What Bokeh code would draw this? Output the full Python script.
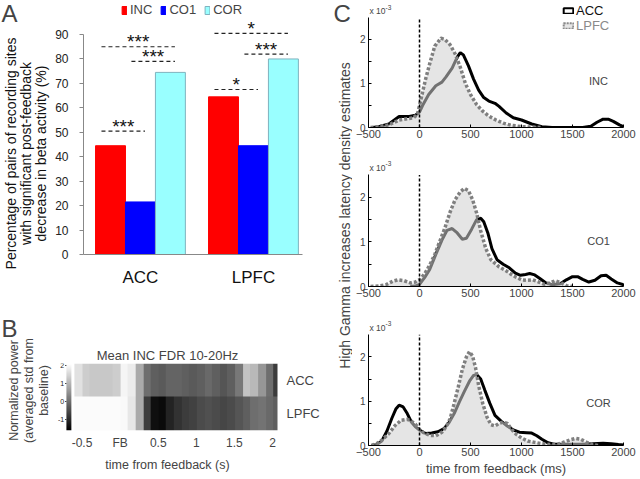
import numpy as np
from bokeh.plotting import figure
from bokeh.models import (Label, Legend, LegendItem, FixedTicker, LinearAxis,
                          Range1d, LinearColorMapper, Title)
from bokeh.layouts import row, column
from bokeh.embed import file_html
from bokeh.resources import INLINE
from bokeh.core.properties import value

FONT = "Liberation Sans"

# ---------------- Panel A data ----------------
regions = ["ACC", "LPFC"]
conditions = ["INC", "CO1", "COR"]
inc_pct = [44.5, 64.5]
co1_pct = [21.5, 44.5]
cor_pct = [74.5, 80.0]
pct_ticks = [0, 10, 20, 30, 40, 50, 60, 70, 80, 90]

sig_region = [0, 0, 0, 1, 1, 1]
sig_cond_a = [0, 0, 1, 0, 0, 1]
sig_cond_b = [1, 2, 2, 1, 2, 2]
sig_level = [50.5, 85.0, 79.0, 67.5, 90.5, 82.0]
sig_stars = ["***", "***", "***", "*", "*", "***"]

# ---------------- Panel B data ----------------
hm_time = [-0.55, -0.45, -0.35, -0.25, -0.15, -0.05, 0.05, 0.15, 0.25, 0.35,
           0.45, 0.55, 0.65, 0.75, 0.85, 0.95, 1.05, 1.15, 1.25, 1.35,
           1.45, 1.55, 1.65, 1.75, 1.85, 1.95, 2.05]
hm_acc = [1.67, 1.38, 1.31, 1.31, 1.31, 1.38, 1.96, 1.82, 0.87, 0.00,
          -0.22, -0.30, -0.15, -0.15, -0.22, -0.30, -0.22, -0.08, -0.22, -0.37,
          -0.22, 0.14, 1.23, 1.09, 0.58, 0.00, -0.73]
hm_lpfc = [2.04, 2.04, 2.04, 2.04, 2.04, 2.04, 2.01, 1.75, 0.87, -0.73,
           -1.39, -1.46, -1.10, -0.88, -0.73, -0.66, -0.52, -0.44, -0.52, -0.59,
           -0.52, -0.37, -0.22, 0.00, 0.07, -0.08, -0.22]
hm_ticks = [-0.5, 0, 0.5, 1, 1.5, 2]
hm_tick_labels = ["-0.5", "FB", "0.5", "1", "1.5", "2"]
cb_ticks = [-1, 0, 1, 2]
cb_tick_labels = ["-1", "0", "1", "2"]
cb_low, cb_high = -1.61, 2.11

# ---------------- Panel C data (ms, density x 1e-3) ----------------
lat_ticks = [-500, 0, 500, 1000, 1500, 2000]
dens_ticks = [0, 1, 2]
dens_minor = [0.5, 1.5]
dens_top = 2.5
feedback_ms = 0

inc_acc_t = [-460, -400, -300, -200, -100, -40, 0, 30, 90, 160, 220, 260, 320, 370,
             400, 430, 480, 530, 580, 630, 680, 740, 780, 850, 920, 1000, 1100,
             1200, 1300, 1450, 1600, 1680, 1740, 1800, 1850, 1900, 1960, 2000]
inc_acc_d = [0, 0.02, 0.08, 0.25, 0.25, 0.28, 0.35, 0.5, 0.75, 0.95, 1.03, 1.15, 1.35,
             1.6, 1.7, 1.65, 1.4, 1.1, 0.85, 0.68, 0.6, 0.55, 0.48, 0.33, 0.22, 0.17,
             0.08, 0.02, 0, 0, 0, 0.03, 0.12, 0.19, 0.19, 0.14, 0.06, 0.02]
inc_lpfc_t = [-480, -400, -300, -200, -120, -60, -20, 0, 30, 60, 100, 150, 210, 250,
              300, 350, 400, 450, 500, 560, 620, 680, 750, 820, 900, 1000, 1100, 1200]
inc_lpfc_d = [0, 0.02, 0.06, 0.17, 0.2, 0.22, 0.3, 0.5, 0.8, 1.1, 1.45, 1.85, 2.03,
              2.0, 1.88, 1.67, 1.37, 1.0, 0.75, 0.52, 0.37, 0.26, 0.17, 0.1, 0.05,
              0.02, 0.01, 0]

co1_acc_t = [-90, -40, 0, 50, 100, 160, 220, 270, 320, 370, 420, 460, 510, 560, 600,
             630, 670, 710, 760, 820, 880, 940, 990, 1040, 1080, 1130, 1180, 1240,
             1300, 1380, 1440, 1500, 1550, 1600, 1660, 1720, 1780, 1830, 1880, 1940, 2000]
co1_acc_d = [0, 0.01, 0.05, 0.2, 0.38, 0.72, 1.04, 1.26, 1.3, 1.2, 1.06, 1.08, 1.28,
             1.5, 1.53, 1.45, 1.2, 0.85, 0.6, 0.5, 0.42, 0.3, 0.25, 0.27, 0.29, 0.26,
             0.18, 0.08, 0.04, 0.06, 0.15, 0.22, 0.22, 0.16, 0.1, 0.14, 0.24, 0.25,
             0.17, 0.08, 0.04]
co1_lpfc_t = [-480, -400, -330, -260, -210, -150, -90, -40, 0, 50, 100, 150, 200, 250,
              300, 350, 400, 440, 480, 520, 560, 600, 650, 700, 780, 850, 920, 1000,
              1060, 1110, 1170, 1220, 1280, 1330, 1380, 1440, 1500]
co1_lpfc_d = [0, 0.01, 0.04, 0.12, 0.15, 0.13, 0.08, 0.1, 0.15, 0.28, 0.48, 0.72, 1.02,
              1.32, 1.67, 1.95, 2.12, 2.2, 2.15, 1.95, 1.65, 1.25, 0.85, 0.6, 0.44,
              0.35, 0.24, 0.15, 0.14, 0.15, 0.1, 0.05, 0.08, 0.13, 0.09, 0.02, 0]

cor_acc_t = [-470, -420, -370, -320, -270, -230, -200, -160, -120, -80, -40, 0, 60, 120,
             180, 240, 290, 340, 390, 440, 490, 530, 560, 600, 640, 690, 740, 800, 860,
             920, 980, 1050, 1100, 1150, 1200, 1260, 1320, 1400, 1500, 1600, 1700, 1800,
             1880, 1950, 2000]
cor_acc_d = [0, 0.02, 0.1, 0.32, 0.62, 0.83, 0.91, 0.87, 0.72, 0.53, 0.42, 0.35, 0.27,
             0.28, 0.31, 0.38, 0.52, 0.72, 0.98, 1.22, 1.45, 1.58, 1.6, 1.5, 1.25, 0.95,
             0.68, 0.55, 0.44, 0.35, 0.3, 0.29, 0.28, 0.22, 0.14, 0.06, 0.03, 0.03,
             0.03, 0.03, 0.04, 0.05, 0.04, 0.02, 0.01]
cor_lpfc_t = [-470, -420, -370, -300, -240, -180, -120, -80, -40, 0, 40, 100, 160, 220,
              260, 300, 340, 380, 420, 460, 490, 520, 550, 580, 620, 660, 700, 740, 780,
              820, 860, 900, 950, 1000, 1060, 1130, 1200, 1280, 1360, 1420, 1480, 1530,
              1580, 1640, 1700, 1760]
cor_lpfc_d = [0, 0.04, 0.12, 0.27, 0.45, 0.57, 0.59, 0.55, 0.48, 0.36, 0.29, 0.23, 0.22,
              0.3, 0.42, 0.6, 0.95, 1.32, 1.72, 2.0, 2.12, 2.02, 1.75, 1.35, 0.95, 0.65,
              0.47, 0.44, 0.5, 0.53, 0.5, 0.37, 0.25, 0.17, 0.1, 0.07, 0.04, 0.02, 0.03,
              0.08, 0.13, 0.16, 0.14, 0.07, 0.02, 0]


def base_fig(**kw):
    p = figure(output_backend="svg", toolbar_location=None, frame_align=False, **kw)
    p.grid.visible = False
    p.outline_line_color = None
    p.background_fill_color = "white"
    p.border_fill_color = "white"
    return p


def flabel(p, fl, fb, px, py, text, size, **kw):
    # px, py: page pixel position; fl, fb: page x of frame left, page y of frame bottom
    p.add_layout(Label(x=px - fl, y=fb - py, x_units="screen", y_units="screen",
                       text=text, text_font=FONT, text_font_size=size, **kw))


# ================= left text strip (A / B letters and y labels) =================
pS = base_fig(width=52, height=479, x_range=Range1d(0, 1), y_range=Range1d(0, 1),
              x_axis_location=None, y_axis_location=None, min_border=0)
S_FL, S_FB = 0, 479
flabel(pS, S_FL, S_FB, 1, 13, "A", "24px", text_baseline="middle", text_align="left")
for px, txt in zip([10, 25, 40], ["Percentage of pairs of recording sites",
                                  "with significant post-feedback",
                                  "decrease in beta activity (%)"]):
    flabel(pS, S_FL, S_FB, px, 153, txt, "14px", angle=np.pi / 2,
           text_align="center", text_baseline="middle", text_color="#111111")
flabel(pS, S_FL, S_FB, 1, 328, "B", "24px", text_baseline="middle", text_align="left")
for px, txt in zip([13, 28, 43], ["Normalized power", "(averaged std from", "baseline)"]):
    flabel(pS, S_FL, S_FB, px, 390, txt, "12.5px", angle=np.pi / 2,
           text_align="center", text_baseline="middle")

# ================= Panel A =================
pA = base_fig(width=270, height=320, x_range=Range1d(-0.504, 1.434), y_range=Range1d(0, 103.1),
              min_border_left=31, min_border_right=20, min_border_top=2, min_border_bottom=66)
offsets = [-0.265, 0.0, 0.265]
bar_fill = ["#ff0000", "#0000ff", "#99ffff"]
bar_line = ["#ff0000", "#0000ff", "#7fb3bf"]
bar_rs = []
for k, vals in enumerate([inc_pct, co1_pct, cor_pct]):
    xs = [i + offsets[k] for i in range(len(regions))]
    r = pA.vbar(x=xs, top=vals, bottom=0, width=0.265, fill_color=bar_fill[k],
                line_color=bar_line[k], line_width=1)
    bar_rs.append(r)

sx0 = [sig_region[i] + offsets[sig_cond_a[i]] - 0.08 for i in range(len(sig_level))]
sx1 = [sig_region[i] + offsets[sig_cond_b[i]] + 0.04 for i in range(len(sig_level))]
smid = [(a + b) / 2 for a, b in zip(sx0, sx1)]
pA.segment(x0=sx0, y0=sig_level, x1=sx1, y1=sig_level, line_color="#222222",
           line_width=1.2, line_dash="4 3")
pA.text(x=smid, y=sig_level, text=sig_stars, text_align="center", text_baseline="alphabetic",
        y_offset=-5, text_font=value(FONT), text_font_size="19px", text_color="#111111")

pA.yaxis.ticker = FixedTicker(ticks=pct_ticks)
pA.yaxis.bounds = (0, 90)
pA.yaxis.axis_line_color = "#888888"
pA.yaxis.major_tick_line_color = "#888888"
pA.yaxis.major_tick_out = 4
pA.yaxis.major_tick_in = 0
pA.yaxis.minor_tick_line_color = None
pA.yaxis.major_label_standoff = 11
pA.yaxis.major_label_text_font = FONT
pA.yaxis.major_label_text_font_size = "12px"
pA.yaxis.major_label_text_color = "#222222"

pA.xaxis.ticker = FixedTicker(ticks=list(range(len(regions))))
pA.xaxis.major_label_overrides = {i: r for i, r in enumerate(regions)}
pA.xaxis.axis_line_color = "#888888"
pA.xaxis.major_tick_line_color = None
pA.xaxis.major_tick_out = 0
pA.xaxis.minor_tick_line_color = None
pA.xaxis.major_label_standoff = 13
pA.xaxis.major_label_text_font = FONT
pA.xaxis.major_label_text_font_size = "17px"
pA.xaxis.major_label_text_color = "#111111"

legA = Legend(items=[LegendItem(label=c, renderers=[r]) for c, r in zip(conditions, bar_rs)],
              orientation="horizontal", location=(38, 237), glyph_width=6, glyph_height=10,
              label_standoff=3, spacing=8, padding=0, margin=0, border_line_color=None,
              background_fill_alpha=0, label_text_font=FONT, label_text_font_size="13px",
              label_height=12)
pA.add_layout(legA)

# ================= Panel B =================
grays = ["#%02x%02x%02x" % (i, i, i) for i in range(256)]
mapper = LinearColorMapper(palette=grays, low=cb_low, high=cb_high)
pB = base_fig(width=270, height=159, x_range=Range1d(-0.822, 2.065), y_range=Range1d(0, 2),
              y_axis_location=None, title="Mean INC FDR 10-20Hz",
              min_border_left=5, min_border_right=43, min_border_top=43, min_border_bottom=49)
pB.extra_y_ranges = {"cb": Range1d(cb_low, cb_high)}
bin_w = hm_time[1] - hm_time[0]
pB.image(image=[np.array([hm_lpfc, hm_acc])], x=hm_time[0] - bin_w / 2, y=0,
         dw=bin_w * len(hm_time), dh=2, color_mapper=mapper)
# colour scale bar with its labels
cb_img = np.linspace(cb_low, cb_high, 128).reshape(-1, 1)
pB.image(image=[cb_img], x=-0.705, y=cb_low, dw=0.065, dh=cb_high - cb_low,
         color_mapper=mapper, y_range_name="cb")
pB.segment(x0=[-0.722] * len(cb_ticks), x1=[-0.705] * len(cb_ticks), y0=cb_ticks,
           y1=cb_ticks, y_range_name="cb", line_color="#333333", line_width=1)
pB.text(x=[-0.735] * len(cb_ticks), y=cb_ticks, text=cb_tick_labels, y_range_name="cb",
        text_align="right", text_baseline="middle", text_font=value(FONT),
        text_font_size="7px", text_color="#222222")

reg_axis = LinearAxis(ticker=FixedTicker(ticks=[0.5, 1.5]),
                      major_label_overrides={0.5: regions[1], 1.5: regions[0]},
                      major_label_text_font=FONT, major_label_text_font_size="13px",
                      major_tick_line_color=None, major_tick_out=0, major_tick_in=0,
                      minor_tick_line_color=None, axis_line_color=None,
                      major_label_standoff=9)
pB.add_layout(reg_axis, "right")

pB.xaxis.ticker = FixedTicker(ticks=hm_ticks)
pB.xaxis.major_label_overrides = dict(zip(hm_ticks, hm_tick_labels))
pB.xaxis.axis_line_color = None
pB.xaxis.major_tick_line_color = None
pB.xaxis.major_tick_out = 0
pB.xaxis.major_tick_in = 0
pB.xaxis.minor_tick_line_color = None
pB.xaxis.major_label_standoff = 5
pB.xaxis.major_label_text_font = FONT
pB.xaxis.major_label_text_font_size = "12px"
pB.add_layout(Title(text="time from feedback (s)", align="center", offset=10,
                    text_font=FONT, text_font_size="12.5px", text_font_style="normal",
                    standoff=6), "below")

pB.title.align = "center"
pB.title.offset = 10
pB.title.text_font = FONT
pB.title.text_font_size = "13px"
pB.title.text_font_style = "normal"
pB.title.standoff = 2

# ================= Panel C label strip =================
pL = base_fig(width=30, height=479, x_range=Range1d(0, 1), y_range=Range1d(0, 1),
              x_axis_location=None, y_axis_location=None, min_border=0)
L_FL, L_FB = 322, 479
flabel(pL, L_FL, L_FB, 333, 13, "C", "24px", text_baseline="middle", text_align="left")
flabel(pL, L_FL, L_FB, 344, 215, "High Gamma increases latency density estimates", "14px",
       angle=np.pi / 2, text_align="center", text_baseline="middle")


# ================= Panel C plots =================
def make_c(h, bottom, page_top, y_end, t_acc, d_acc, t_lpfc, d_lpfc, name, name_y):
    p = base_fig(width=288, height=h, x_range=Range1d(-500, 2000), y_range=Range1d(0, y_end),
                 min_border_left=16, min_border_right=17, min_border_top=0,
                 min_border_bottom=bottom)
    fb = page_top + h - bottom
    p.line(t_acc, d_acc, line_color="black", line_width=3)
    p.varea(x=t_lpfc, y1=0, y2=d_lpfc, fill_color="#cfcfcf", fill_alpha=0.55)
    p.line(t_lpfc, d_lpfc, line_color="#7f7f7f", line_width=3.5, line_dash="3 2")
    p.segment(x0=[feedback_ms], y0=[0], x1=[feedback_ms], y1=[dens_top],
              line_color="black", line_width=1.5, line_dash="3 2")
    p.add_layout(Label(x=1755, y=name_y, text=name, text_font=FONT, text_font_size="11px",
                       text_align="center", text_baseline="middle"))
    p.xaxis.ticker = FixedTicker(ticks=lat_ticks)
    p.xaxis.major_tick_in = 3
    p.xaxis.major_tick_out = 0
    p.xaxis.minor_tick_line_color = None
    p.xaxis.major_label_standoff = 2
    p.xaxis.major_label_text_font = FONT
    p.xaxis.major_label_text_font_size = "11px"
    p.yaxis.ticker = FixedTicker(ticks=dens_ticks, minor_ticks=dens_minor)
    p.yaxis.bounds = (0, dens_top)
    p.yaxis.major_tick_in = 3
    p.yaxis.major_tick_out = 0
    p.yaxis.minor_tick_in = 3
    p.yaxis.minor_tick_out = 0
    p.yaxis.major_label_standoff = 3
    p.yaxis.major_label_text_font = FONT
    p.yaxis.major_label_text_font_size = "10px"
    return p, fb


C_FL = 368
pC1, fb1 = make_c(160, 33, 0, 2.886, inc_acc_t, inc_acc_d, inc_lpfc_t, inc_lpfc_d, "INC", 1.06)
pC2, fb2 = make_c(160, 34, 160, 2.825, co1_acc_t, co1_acc_d, co1_lpfc_t, co1_lpfc_d, "CO1", 1.03)
pC3, fb3 = make_c(159, 34, 320, 2.82, cor_acc_t, cor_acc_d, cor_lpfc_t, cor_lpfc_d, "COR", 0.96)

for p, fb, ypos in [(pC1, fb1, 10.5), (pC2, fb2, 167), (pC3, fb3, 327)]:
    flabel(p, C_FL, fb, 369, ypos, "x 10", "8.5px", text_baseline="middle", text_align="left")
    flabel(p, C_FL, fb, 385, ypos - 4, "-3", "6.5px", text_baseline="middle", text_align="left")

# legend keys (hidden renderers styled like the legend boxes)
acc_leg = pC1.quad(left=[min(inc_acc_t)], right=[max(inc_acc_t)], bottom=[0],
                   top=[max(inc_acc_d)], fill_color="white", line_color="black",
                   line_width=2, visible=False)
lpfc_leg = pC1.quad(left=[min(inc_lpfc_t)], right=[max(inc_lpfc_t)], bottom=[0],
                    top=[max(inc_lpfc_d)], fill_color="#e6e6e6", line_color="#8a8a8a",
                    line_width=2, line_dash="2 1", visible=False)
leg_common = dict(glyph_width=12, glyph_height=7, label_standoff=2, spacing=0, padding=0,
                  margin=0, border_line_color=None, background_fill_alpha=0,
                  inactive_fill_alpha=0, click_policy="none",
                  label_text_font=FONT, label_text_font_size="13px", label_height=13)
legC1 = Legend(items=[LegendItem(label="ACC", renderers=[acc_leg])],
               location=(194, 109), label_text_color="#111111", **leg_common)
legC2 = Legend(items=[LegendItem(label="LPFC", renderers=[lpfc_leg])],
               location=(194, 94), label_text_color="#8a8a8a", **leg_common)
pC1.add_layout(legC1)
pC1.add_layout(legC2)

pC3.add_layout(Title(text="time from feedback (ms)", align="center", offset=11,
                     text_font=FONT, text_font_size="13px", text_font_style="normal",
                     standoff=0), "below")

layout = row(pS, column(pA, pB), pL, column(pC1, pC2, pC3))
open("out.html", "w").write(file_html(layout, INLINE))
